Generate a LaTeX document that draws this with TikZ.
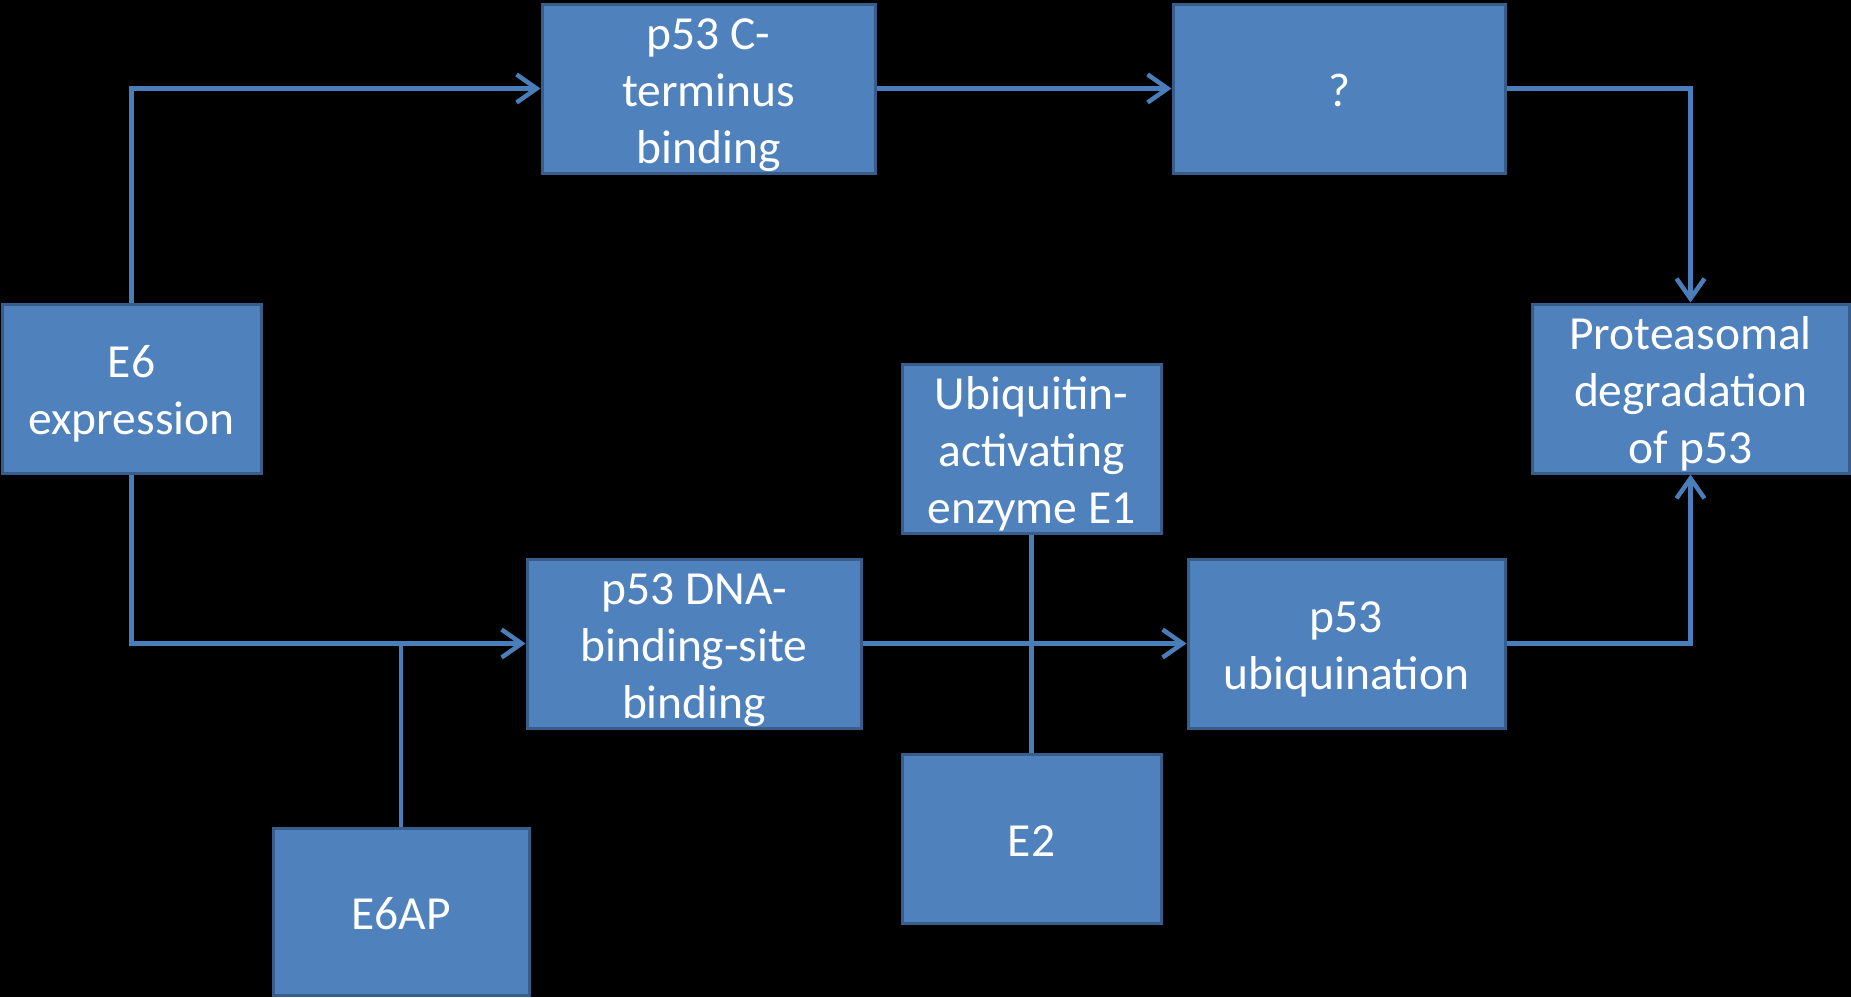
\documentclass[tikz,border=0pt]{standalone}
\usepackage{fontspec}
\setmainfont{Carlito}
\usetikzlibrary{arrows.meta}
\definecolor{boxfill}{HTML}{4F81BD}
\definecolor{boxedge}{HTML}{385D8A}
\definecolor{wire}{HTML}{4A7EBB}
\tikzset{
  stage/.style={draw=boxedge, fill=boxfill, line width=3pt, inner sep=0pt,
    text=white, align=center, font=\fontsize{47.5}{57}\selectfont,
    minimum height=169pt, text depth=0pt},
  % text box heights for one, two and three lines of 57pt
  lines1/.style={text height=35pt},
  lines2/.style={text height=92pt},
  lines3/.style={text height=149pt},
  link/.style={draw=wire, line width=4.5pt},
  flow/.style={link, -{Straight Barb[length=20pt,width=28pt,line width=4.5pt]}}
}
\begin{document}
\begin{tikzpicture}[x=1pt, y=-1pt]
  \fill[black] (0,0) rectangle (1851,997);
  \useasboundingbox (0,0) rectangle (1851,997);

  % process boxes
  \node[stage, lines3, minimum width=333pt] (cterm) at (708.5,88.5) {p53 C-\\terminus\\binding};
  \node[stage, lines1, minimum width=332pt] (unknown) at (1339,88.5) {?};
  \node[stage, lines2, minimum width=259pt] (e6) at (131.5,388.5) {E6\\expression};
  \node[stage, lines3, minimum width=317pt] (degr) at (1690.5,388.5) {Proteasomal\\degradation\\of p53};
  \node[stage, lines3, minimum width=259pt] (e1) at (1031.5,448.5) {Ubiquitin-\\activating\\enzyme E1};
  \node[stage, lines3, minimum width=334pt] (dna) at (694,643.5) {p53 DNA-\\binding-site\\binding};
  \node[stage, lines2, minimum width=317pt] (ubq) at (1346.5,643.5) {p53\\ubiquination};
  \node[stage, lines1, minimum width=256pt, minimum height=167pt] (e6ap) at (401,912) {E6AP};
  \node[stage, lines1, minimum width=259pt] (e2) at (1031.5,838.5) {E2};

  % junction points
  \coordinate (j1) at (e6.north |- cterm.west);
  \coordinate (j2) at (e6.south |- dna.west);
  \coordinate (j3) at (degr.north |- unknown.east);
  \coordinate (j4) at (degr.south |- ubq.east);

  % connectors
  \draw[flow] (e6.north) -- (j1) -- (cterm.west);
  \draw[flow] (cterm.east) -- (unknown.west);
  \draw[flow] (unknown.east) -- (j3) -- (degr.north);
  \draw[flow] (e6.south) -- (j2) -- (dna.west);
  \draw[link] (e6ap.north) -- (e6ap.north |- dna.west);
  \draw[link] (e1.south) -- (e2.north);
  \draw[flow] (dna.east) -- (ubq.west);
  \draw[flow] (ubq.east) -- (j4) -- (degr.south);
\end{tikzpicture}
\end{document}
